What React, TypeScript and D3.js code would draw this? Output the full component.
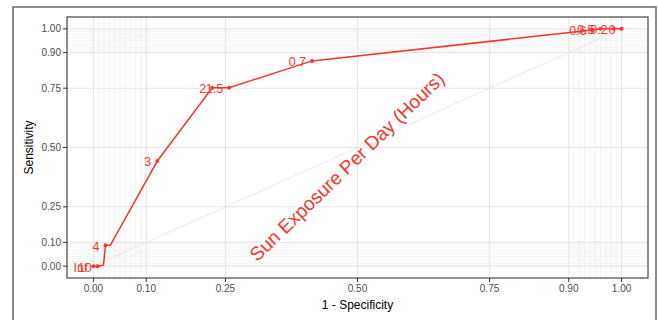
import React from 'react';
import * as d3 from 'd3';

// ROC path (1 - specificity, sensitivity)
const rocFpr = [0, 0.008, 0.019, 0.023, 0.032, 0.121, 0.225, 0.257, 0.414, 0.945, 0.96, 0.985, 1];
const rocTpr = [0, 0, 0.004, 0.088, 0.088, 0.443, 0.752, 0.752, 0.865, 0.995, 1, 1, 1];

// labelled cutoffs
const cutLabels = ['Inf', '10', '4', '3', '2', '1.5', '0.7', '0.6', '0.5', '0.2', '0'];
const cutFpr = [0, 0.008, 0.023, 0.121, 0.225, 0.257, 0.414, 0.945, 0.96, 0.985, 1];
const cutTpr = [0, 0, 0.088, 0.443, 0.752, 0.752, 0.865, 0.995, 1, 1, 1];

const majorTicks = [0, 0.1, 0.25, 0.5, 0.75, 0.9, 1];
const tickLabels = ['0.00', '0.10', '0.25', '0.50', '0.75', '0.90', '1.00'];
const minorTicks = [0.01, 0.02, 0.03, 0.04, 0.05, 0.06, 0.07, 0.08, 0.09,
  0.91, 0.92, 0.93, 0.94, 0.95, 0.96, 0.97, 0.98, 0.99];

const seriesName = 'Sun Exposure Per Day (Hours)';

const W = 659, H = 320;
const left = 67, right = 648, top = 17, bottom = 278;
const red = '#f5362b';
const font = '"Liberation Sans", Arial, sans-serif';

export default function App() {
  const x = d3.scaleLinear().domain([-0.05, 1.05]).range([left, right]);
  const y = d3.scaleLinear().domain([-0.05, 1.05]).range([bottom, top]);

  const line = d3.line<number>()
    .x(function (d, i) { return x(rocFpr[i]); })
    .y(function (d, i) { return y(rocTpr[i]); });

  const diag = d3.line<number>().x(d => x(d)).y(d => y(d));

  return (
    <svg width={W} height={H} style={{ position: 'absolute', left: 0, top: 0, background: '#fff' }}
      fontFamily={font}>
      <rect x={0} y={0} width={W} height={H} fill="#fff" />
      <rect x={13} y={7} width={643} height={340} fill="none" stroke="#666" strokeWidth={1.5} />

      {/* minor grid */}
      {minorTicks.map(t => (
        <g key={'m' + t}>
          <line x1={x(t)} x2={x(t)} y1={top} y2={bottom} stroke="#ebebeb" strokeWidth={0.6} />
          <line x1={left} x2={right} y1={y(t)} y2={y(t)} stroke="#ebebeb" strokeWidth={0.6} />
        </g>
      ))}
      {/* major grid */}
      {majorTicks.map(t => (
        <g key={'M' + t}>
          <line x1={x(t)} x2={x(t)} y1={top} y2={bottom} stroke="#e6e6e6" strokeWidth={1.1} />
          <line x1={left} x2={right} y1={y(t)} y2={y(t)} stroke="#e6e6e6" strokeWidth={1.1} />
        </g>
      ))}

      <path d={diag([0, 1]) || ''} stroke="#e3e3e3" strokeWidth={0.8} fill="none" />

      <path d={line(rocFpr) || ''} stroke={red} strokeWidth={1.5} fill="none" />
      {cutFpr.map((f, i) => (
        <g key={'c' + i}>
          <circle cx={x(f)} cy={y(cutTpr[i])} r={2} fill={red} />
          <text x={x(f) - 6} y={y(cutTpr[i]) + 1} dy="0.35em" textAnchor="end"
            fontSize={12.5} fill={red}>{cutLabels[i]}</text>
        </g>
      ))}

      <text transform={`translate(${x(0.48)},${y(0.42)}) rotate(-44)`} textAnchor="middle"
        dy="0.35em" fontSize={19} fill={red}>{seriesName}</text>

      <rect x={left} y={top} width={right - left} height={bottom - top} fill="none"
        stroke="#333" strokeWidth={1.1} />

      {majorTicks.map((t, i) => (
        <g key={'t' + t}>
          <line x1={left - 4} x2={left} y1={y(t)} y2={y(t)} stroke="#333" />
          <text x={left - 6} y={y(t)} dy="0.35em" textAnchor="end" fontSize={10}
            fill="#4d4d4d">{tickLabels[i]}</text>
          <line x1={x(t)} x2={x(t)} y1={bottom} y2={bottom + 4} stroke="#333" />
          <text x={x(t)} y={bottom + 14} textAnchor="middle" fontSize={10}
            fill="#4d4d4d">{tickLabels[i]}</text>
        </g>
      ))}

      <text x={(left + right) / 2} y={309} textAnchor="middle" fontSize={12} fill="#000">1 - Specificity</text>
      <text transform={`translate(33,${(top + bottom) / 2}) rotate(-90)`} textAnchor="middle"
        fontSize={12} fill="#000">Sensitivity</text>
    </svg>
  );
}
